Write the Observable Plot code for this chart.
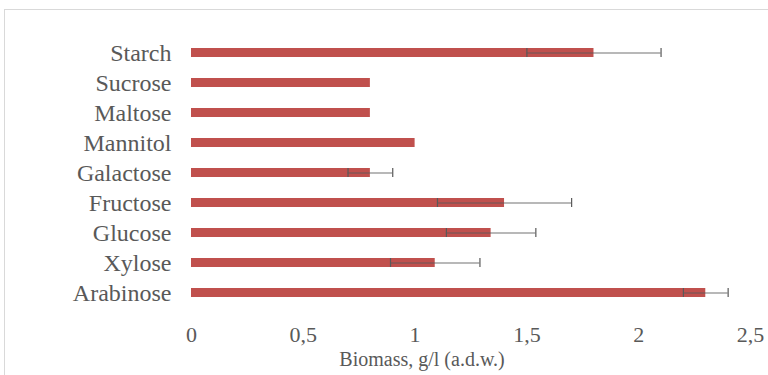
<!DOCTYPE html>
<html>
<head>
<meta charset="utf-8">
<script src="https://cdn.jsdelivr.net/npm/d3@7"></script>
<script src="https://cdn.jsdelivr.net/npm/@observablehq/plot@0.6"></script>
<style>
  html, body { margin: 0; padding: 0; background: #fff; overflow: hidden; }
  #wrap { position: relative; width: 768px; height: 375px; overflow: hidden; }
  #border { position: absolute; left: 4px; top: 9px; width: 900px; height: 500px; border: 1px solid #d9d9d9; box-sizing: border-box; }
  #chart { position: absolute; left: 0; top: 0; }
</style>
</head>
<body>
<div id="wrap"><div id="border"></div><div id="chart"></div></div>
<script>
const sugars = ["Starch", "Sucrose", "Maltose", "Mannitol", "Galactose", "Fructose", "Glucose", "Xylose", "Arabinose"];
const biomass = [1.80, 0.80, 0.80, 1.00, 0.80, 1.40, 1.34, 1.09, 2.30];
const errorBar = [0.30, 0, 0, 0, 0.10, 0.30, 0.20, 0.20, 0.10];
const xTicks = [0, 0.5, 1, 1.5, 2, 2.5];
const xTitle = "Biomass, g/l (a.d.w.)";

const data = sugars.map((s, i) => ({sugar: s, value: biomass[i], lo: biomass[i] - errorBar[i], hi: biomass[i] + errorBar[i], err: errorBar[i]}));
const withErr = data.filter(d => d.err > 0);

const font = "'Liberation Serif', 'Times New Roman', serif";
const plot = Plot.plot({
  width: 768,
  height: 375,
  marginLeft: 191,
  marginRight: 18,
  marginTop: 38,
  marginBottom: 67,
  style: {fontFamily: font, color: "#595959", background: "transparent"},
  x: {domain: [0, 2.5], ticks: xTicks},
  y: {domain: sugars, paddingInner: 0.7, paddingOuter: 0.35},
  marks: [
    Plot.gridX(xTicks, {stroke: "#d9d9d9", strokeOpacity: 1, strokeWidth: 1.3, y1: 38, y2: 305}),
    Plot.barX(data, {x: "value", y: "sugar", fill: "#c0504d"}),
    Plot.ruleY(withErr, {x1: "lo", x2: "hi", y: "sugar", stroke: "#595959", strokeWidth: 1.2, strokeOpacity: 0.85}),
    Plot.tickX(withErr, {x: "lo", y: "sugar", stroke: "#595959", strokeWidth: 1.2}),
    Plot.tickX(withErr, {x: "hi", y: "sugar", stroke: "#595959", strokeWidth: 1.2}),
    Plot.axisX(xTicks, {tickSize: 0, tickPadding: 18, fontSize: 22, label: null, tickFormat: d => String(d).replace(".", ",")}),
    Plot.axisY({tickSize: 0, tickPadding: 20, fontSize: 24, label: null}),
    Plot.text([xTitle], {text: d => d, frameAnchor: "bottom", dx: -49, dy: 57, fontSize: 20, fill: "#595959"})
  ]
});
document.getElementById("chart").appendChild(plot);
</script>
</body>
</html>
